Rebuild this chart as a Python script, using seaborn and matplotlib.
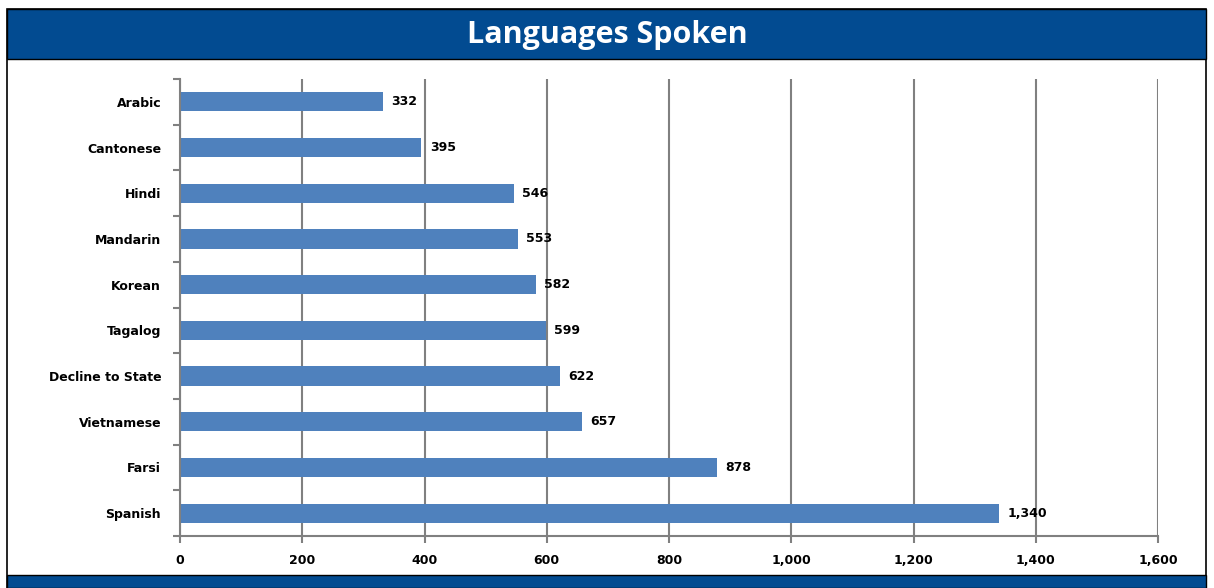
import matplotlib
matplotlib.use("Agg")
import matplotlib.pyplot as plt
from matplotlib.patches import Rectangle
from matplotlib.ticker import FixedLocator, FuncFormatter
import pandas as pd
import seaborn as sns

# data
languages = ["Arabic", "Cantonese", "Hindi", "Mandarin", "Korean", "Tagalog",
             "Decline to State", "Vietnamese", "Farsi", "Spanish"]
speakers = [332, 395, 546, 553, 582, 599, 622, 657, 878, 1340]

df = pd.DataFrame({"language": languages, "speakers": speakers})

sns.set_style("white")
plt.rcParams["font.family"] = ["DejaVu Sans"]

W, H = 1214, 588
fig = plt.figure(figsize=(W / 100, H / 100), dpi=100)

# frame, header and footer bands
blue = "#024B91"
fig.patches.append(Rectangle((7 / W, 0), 1199 / W, 1 - 9 / H, transform=fig.transFigure,
                             fill=False, edgecolor="black", linewidth=1.2))
fig.patches.append(Rectangle((7 / W, 1 - 59 / H), 1199 / W, 50 / H, transform=fig.transFigure,
                             facecolor=blue, edgecolor="black", linewidth=1))
fig.patches.append(Rectangle((7 / W, 0), 1199 / W, 13 / H, transform=fig.transFigure,
                             facecolor=blue, edgecolor="black", linewidth=1))
fig.text(607 / W, 1 - 35 / H, "Languages Spoken", color="white", fontsize=22,
         fontweight="bold", ha="center", va="center", family="Open Sans")

ax = fig.add_axes([180 / W, 1 - 536 / H, 978 / W, 457 / H])
sns.barplot(data=df, y="language", x="speakers", orient="h", color="#4F81BD",
            width=0.42, saturation=1, linewidth=0, ax=ax)

ax.set_xlim(0, 1600)
ax.set_ylim(len(languages) - 0.5, -0.5)
ax.set_xticks(range(0, 1601, 200))
ax.xaxis.set_major_formatter(FuncFormatter(lambda v, p: f"{int(v):,}"))
ax.grid(axis="x", color="#808080", linewidth=1.5)
ax.set_axisbelow(True)

for s in ["top", "right"]:
    ax.spines[s].set_visible(False)
for s in ["left", "bottom"]:
    ax.spines[s].set_color("#808080")
    ax.spines[s].set_linewidth(1.5)

ax.yaxis.set_minor_locator(FixedLocator([i - 0.5 for i in range(len(languages) + 1)]))
ax.tick_params(axis="y", which="major", left=False, pad=10, labelsize=9, labelcolor="black")
ax.tick_params(axis="y", which="minor", left=True, length=5, color="#808080", width=1.5)
ax.tick_params(axis="x", bottom=True, length=5, color="#808080", width=1.5, pad=8,
               labelsize=9, labelcolor="black")
for lbl in ax.get_yticklabels() + ax.get_xticklabels():
    lbl.set_fontweight("bold")
ax.set_xlabel("")
ax.set_ylabel("")

for i, v in enumerate(speakers):
    ax.annotate(f"{v:,}", (v, i), xytext=(6, 0), textcoords="offset points",
                ha="left", va="center", fontsize=9, fontweight="bold", color="black")

fig.savefig("out.png", dpi=100)
